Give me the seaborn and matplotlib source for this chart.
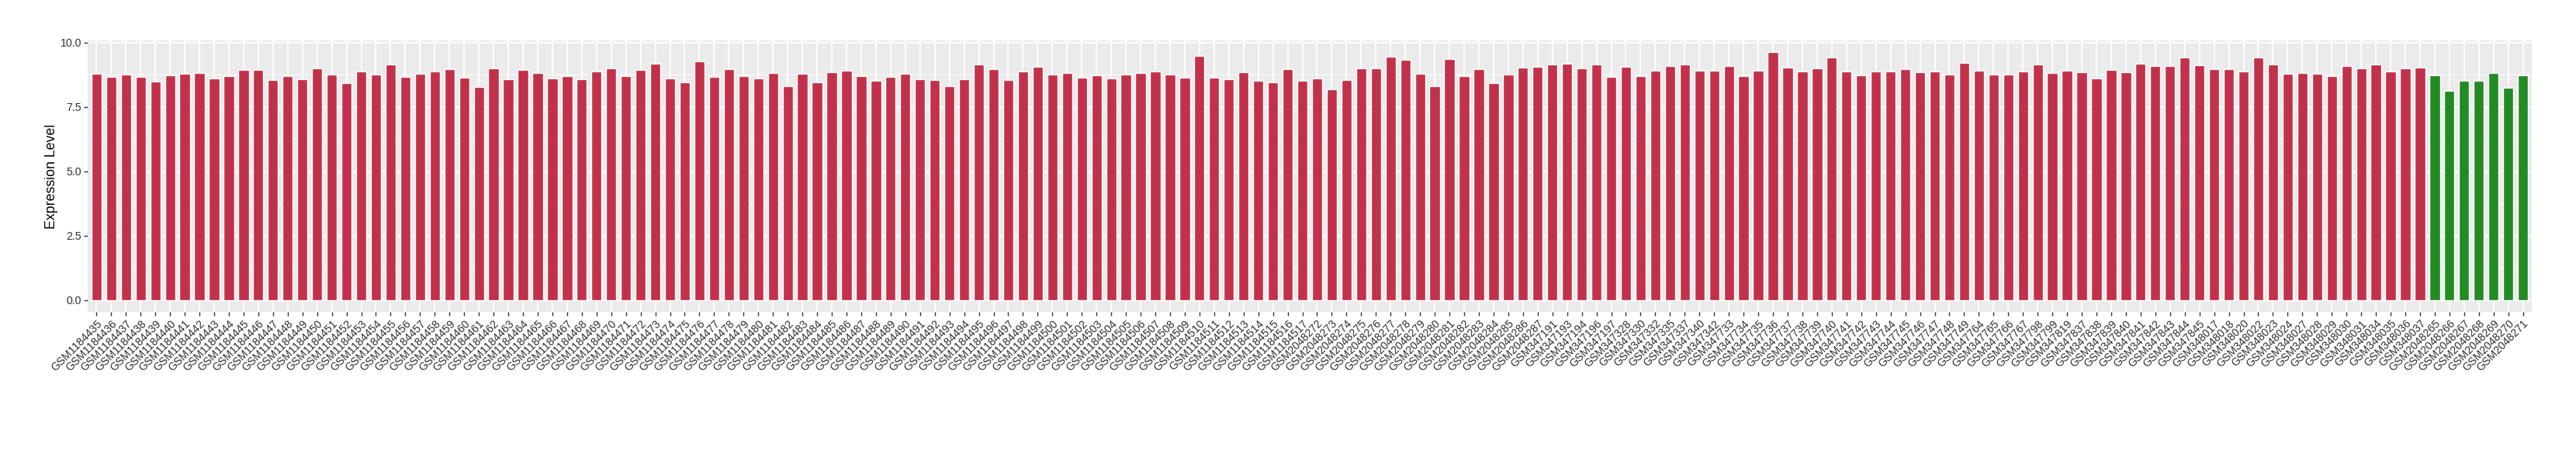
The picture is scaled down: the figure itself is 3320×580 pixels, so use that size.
import numpy as np
import pandas as pd
import matplotlib
matplotlib.use('Agg')
import matplotlib.pyplot as plt
import seaborn as sns

# ---- data ----
ids_a = ['GSM%d' % n for n in range(1184435, 1184518)]
ids_b = ['GSM%d' % n for n in range(2048272, 2048288)]
ids_c = ['GSM347' + s for s in ['191', '193', '194', '196', '197', '328', '330', '332', '335', '337',
                                '340', '342', '733', '734', '735', '736', '737', '738', '739', '740',
                                '741', '742', '743', '744', '745', '746', '747', '748', '749', '764',
                                '765', '766', '767', '798', '799', '819', '837', '838', '839', '840',
                                '841', '842', '843', '844', '845']]
ids_d = ['GSM348' + s for s in ['017', '018', '020', '022', '023', '024', '027', '028', '029', '030',
                                '031', '034', '035', '036', '037']]
ids_normal = ['GSM%d' % n for n in range(2048265, 2048272)]

tumor_values = [
    8.80, 8.66, 8.77, 8.66, 8.50, 8.74, 8.80, 8.82, 8.60, 8.71,
    8.93, 8.93, 8.55, 8.71, 8.58, 9.01, 8.77, 8.44, 8.88, 8.77,
    9.15, 8.66, 8.80, 8.88, 8.96, 8.63, 8.28, 8.99, 8.58, 8.93,
    8.82, 8.60, 8.71, 8.58, 8.88, 8.99, 8.71, 8.93, 9.20, 8.60,
    8.47, 9.28, 8.66, 8.96, 8.69, 8.60, 8.82, 8.31, 8.80, 8.47,
    8.85, 8.90, 8.69, 8.52, 8.66, 8.80,
    8.58, 8.55, 8.31, 8.58, 9.15, 8.96, 8.55, 8.88, 9.07, 8.77,
    8.82, 8.63, 8.74, 8.60, 8.77, 8.82, 8.88, 8.77, 8.63, 9.50,
    8.63, 8.58, 8.85, 8.52, 8.47, 8.96, 8.52, 8.60, 8.20, 8.55,
    8.99, 9.01, 9.45, 9.34, 8.80, 8.31, 9.37, 8.69, 8.96, 8.44,
    8.77, 9.04, 9.07, 9.15, 9.18, 9.01, 9.15, 8.66, 9.07, 8.71,
    8.90, 9.09, 9.15, 8.90, 8.90,
    9.09, 8.71, 8.90, 9.64, 9.04, 8.88, 8.99, 9.42, 8.88, 8.74,
    8.88, 8.88, 8.96, 8.85, 8.88, 8.77, 9.23, 8.90, 8.77, 8.77,
    8.88, 9.15, 8.82, 8.90, 8.85, 8.60, 8.93, 8.85, 9.20, 9.09,
    9.09, 9.42, 9.12, 8.96, 8.96, 8.88, 9.42, 9.15, 8.80, 8.82,
    8.80, 8.69, 9.09, 9.01, 9.15, 8.88, 8.99, 9.04,
]
normal_values = [8.74, 8.12, 8.52, 8.52, 8.82, 8.25, 8.74]

tumor_ids = ids_a + ids_b + ids_c + ids_d
samples = tumor_ids + ids_normal
values = tumor_values + normal_values
groups = ['Tumor'] * len(tumor_ids) + ['Normal'] * len(ids_normal)

df = pd.DataFrame({'Sample': samples, 'Expression': values, 'Group': groups})

RED = '#C2314A'
GREEN = '#228B22'

# ---- style (ggplot2 grey look) ----
sns.set_theme(style='darkgrid', rc={
    'axes.facecolor': '#EBEBEB',
    'grid.color': 'white',
    'axes.edgecolor': 'none',
})
plt.rcParams['font.family'] = ['Liberation Sans', 'DejaVu Sans']

fig = plt.figure(figsize=(33.2, 5.8), dpi=100)
ax = fig.add_axes([113 / 3320, 1 - 402 / 580, (3263 - 113) / 3320, 350 / 580])

sns.barplot(data=df, x='Sample', y='Expression', hue='Group', order=samples,
            palette={'Tumor': RED, 'Normal': GREEN}, dodge=False, width=0.7,
            saturation=1, legend=False, ax=ax)

ax.set_xlim(-0.6, len(samples) - 0.4)
ax.set_ylim(-0.46, 10.09)
ax.set_yticks([0, 2.5, 5, 7.5, 10])
ax.set_yticklabels(['0.0', '2.5', '5.0', '7.5', '10.0'])
ax.set_yticks([1.25, 3.75, 6.25, 8.75], minor=True)
ax.grid(which='major', color='white', linewidth=1.3)
ax.grid(which='minor', axis='y', color='white', linewidth=0.6)
ax.set_axisbelow(True)

ax.tick_params(axis='both', which='major', length=3.6, width=1, color='#333333',
               labelsize=10.2, labelcolor='#303030', pad=2, bottom=True, left=True)
ax.tick_params(axis='y', which='minor', length=0)
plt.setp(ax.get_xticklabels(), rotation=45, ha='right', va='top', rotation_mode='anchor')

ax.set_xlabel('')
ax.set_ylabel('Expression Level', fontsize=12.8, color='black', labelpad=2)

fig.savefig('out.png', dpi=100)
